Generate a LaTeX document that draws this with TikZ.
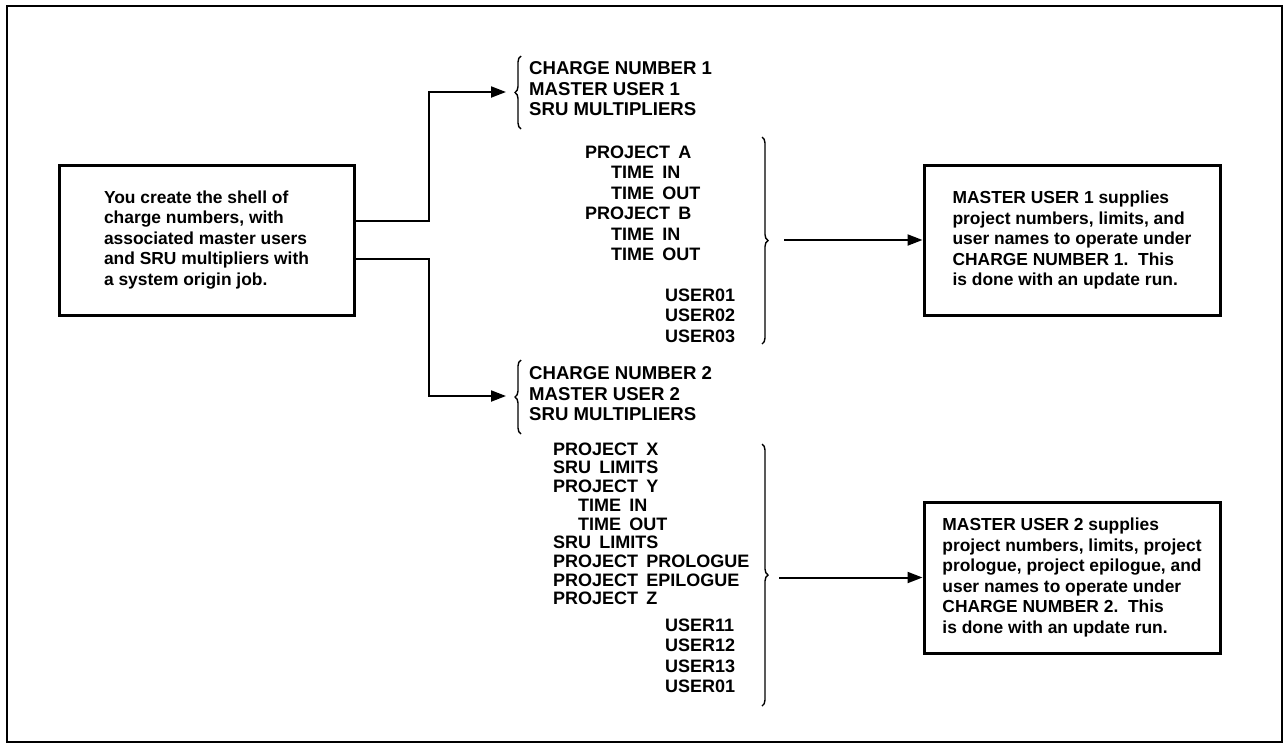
\documentclass[tikz,border=0pt]{standalone}
\usepackage{fontspec}
\setmainfont{Liberation Sans}
\usetikzlibrary{arrows.meta,decorations.pathreplacing}
\newcommand\wsp{\hspace{0.45em}}
\begin{document}
\begin{tikzpicture}[x=1pt,y=-1pt,
  every node/.style={font=\bfseries\fontsize{18}{20.5}\selectfont},
  box/.style={draw,line width=3pt,align=left,minimum width=296pt,inner sep=0pt,
    font=\bfseries\fontsize{17.4}{20.5}\selectfont},
  txt/.style={anchor=north west,align=left,inner sep=0pt},
  hdr/.style={txt,font=\bfseries\fontsize{18.6}{20.5}\selectfont},
  conn/.style={line width=2pt,-{Triangle[length=15pt,width=11pt]}},
  brc/.style={line width=1.4pt,decorate,decoration={brace,amplitude=6pt}}]
\useasboundingbox (0,0) rectangle (1285,745);
\draw[line width=2pt] (7,6) rectangle (1282,742);

% boxes
\node[box,minimum width=295pt,minimum height=150pt] (L) at (206.5,240)
  {You create the shell of\\charge numbers, with\\associated master users\\and SRU multipliers with\\a system origin job.};
\node[box,minimum height=150pt] (R1) at (1072,240)
  {MASTER USER 1 supplies\\project numbers, limits, and\\user names to operate under\\CHARGE NUMBER 1.\ \ This\\is done with an update run.};
\node[box,minimum height=151pt] (R2) at (1072,577.5)
  {MASTER USER 2 supplies\\project numbers, limits, project\\prologue, project epilogue, and\\user names to operate under\\CHARGE NUMBER 2.\ \ This\\is done with an update run.};

% text blocks
\node[hdr] (c1) at (529,61.5) {CHARGE NUMBER 1\\MASTER USER 1\\SRU MULTIPLIERS};
\node[txt] (pA) at (585,145.5) {PROJECT\wsp A\\\hspace*{26pt}TIME\wsp IN\\\hspace*{26pt}TIME\wsp OUT\\PROJECT\wsp B\\\hspace*{26pt}TIME\wsp IN\\\hspace*{26pt}TIME\wsp OUT};
\node[txt] (u1) at (665,288.5) {USER01\\USER02\\USER03};
\node[hdr] (c2) at (529,366.5) {CHARGE NUMBER 2\\MASTER USER 2\\SRU MULTIPLIERS};
\node[txt,font=\bfseries\fontsize{18}{18.7}\selectfont] (pX) at (553,442.5) {PROJECT\wsp X\\SRU\wsp LIMITS\\PROJECT\wsp Y\\\hspace*{25pt}TIME\wsp IN\\\hspace*{25pt}TIME\wsp OUT\\SRU\wsp LIMITS\\PROJECT\wsp PROLOGUE\\PROJECT\wsp EPILOGUE\\PROJECT\wsp Z};
\node[txt] (u2) at (665,618.5) {USER11\\USER12\\USER13\\USER01};

% braces
\draw[brc] (521,129) -- (521,56);
\draw[brc] (521,434) -- (521,360);
\draw[brc] (762,137) -- (762,344);
\draw[brc] (762,444) -- (762,706);

% connector ends
\coordinate (a1) at (506,92);
\coordinate (a2) at (506,396);
\coordinate (t1) at (784,240);
\coordinate (t2) at (779,577.5);

\draw[conn] ([yshift=19pt]L.east) -- ++(73,0) |- (a1);
\draw[conn] ([yshift=-19pt]L.east) -- ++(73,0) |- (a2);
\draw[conn] (t1) -- (R1.west);
\draw[conn] (t2) -- (R2.west);
\end{tikzpicture}
\end{document}
